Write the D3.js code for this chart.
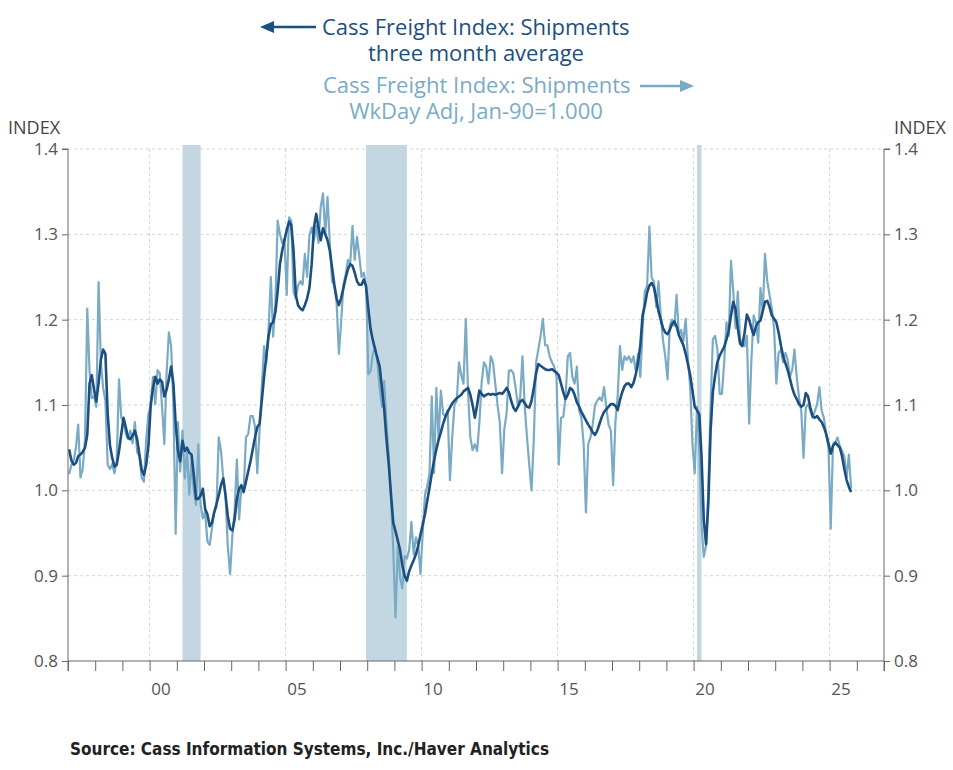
<!DOCTYPE html>
<html>
<head>
<meta charset="utf-8">
<script src="https://cdnjs.cloudflare.com/ajax/libs/d3/7.8.5/d3.min.js"></script>
<style>
  body { margin: 0; background: #fff; }
  svg text { font-family: "Open Sans", "Noto Sans", sans-serif; }
  .tick text { fill: #555; }
  .axis path, .axis line { stroke: #666; }
</style>
</head>
<body>
<svg id="chart" width="953" height="770"></svg>
<script>
// monthly values, Jan 1997 .. Oct 2025
var startYear = 1997;

var shipments = [
  1.019, 1.030, 1.035, 1.050, 1.077, 1.015, 1.025, 1.060, 1.213, 1.140, 1.108, 1.110, // 1997
  1.098, 1.244, 1.150, 1.120, 1.105, 1.030, 1.025, 1.031, 1.020, 1.035, 1.130, 1.085, // 1998
  1.080, 1.066, 1.060, 1.070, 1.055, 1.080, 1.045, 1.040, 1.015, 1.010, 1.060, 1.090, // 1999
  1.100, 1.133, 1.101, 1.141, 1.137, 1.098, 1.054, 1.137, 1.185, 1.169, 1.101, 0.949, // 2000
  1.080, 1.022, 1.070, 1.014, 1.046, 0.995, 1.034, 0.999, 0.983, 1.054, 0.983, 0.967, // 2001
  0.975, 0.940, 0.936, 0.955, 0.975, 0.980, 1.062, 1.046, 1.014, 0.994, 0.934, 0.902, // 2002
  0.946, 0.975, 1.036, 0.966, 1.005, 0.998, 1.062, 1.066, 1.087, 1.087, 1.075, 1.020, // 2003
  1.070, 1.121, 1.169, 1.150, 1.189, 1.250, 1.180, 1.220, 1.316, 1.300, 1.290, 1.295, // 2004
  1.229, 1.320, 1.316, 1.233, 1.225, 1.240, 1.245, 1.241, 1.277, 1.250, 1.298, 1.308, // 2005
  1.293, 1.310, 1.290, 1.332, 1.348, 1.300, 1.344, 1.290, 1.245, 1.240, 1.220, 1.160, // 2006
  1.197, 1.240, 1.253, 1.270, 1.265, 1.310, 1.270, 1.297, 1.275, 1.250, 1.255, 1.240, // 2007
  1.136, 1.140, 1.160, 1.168, 1.150, 1.120, 1.098, 1.128, 1.080, 1.040, 0.990, 0.930, // 2008
  0.851, 0.934, 0.898, 0.885, 0.923, 0.920, 0.930, 0.963, 0.925, 0.945, 0.935, 0.902, // 2009
  0.950, 0.995, 1.005, 1.020, 1.110, 1.020, 1.120, 1.060, 1.117, 1.090, 1.086, 1.094, // 2010
  1.012, 1.062, 1.100, 1.105, 1.150, 1.135, 1.125, 1.201, 1.115, 1.062, 1.047, 1.054, // 2011
  1.046, 1.080, 1.127, 1.150, 1.145, 1.125, 1.157, 1.150, 1.125, 1.100, 1.080, 1.020, // 2012
  1.072, 1.090, 1.140, 1.141, 1.137, 1.120, 1.098, 1.110, 1.157, 1.098, 1.062, 1.030, // 2013
  1.000, 1.060, 1.150, 1.165, 1.181, 1.201, 1.170, 1.170, 1.157, 1.150, 1.145, 1.133, // 2014
  1.030, 1.085, 1.086, 1.109, 1.157, 1.161, 1.133, 1.125, 1.145, 1.093, 1.085, 1.054, // 2015
  0.974, 1.054, 1.062, 1.077, 1.100, 1.105, 1.109, 1.105, 1.121, 1.097, 1.077, 1.070, // 2016
  1.006, 1.080, 1.110, 1.169, 1.141, 1.157, 1.153, 1.157, 1.150, 1.157, 1.140, 1.160, // 2017
  1.133, 1.190, 1.233, 1.240, 1.309, 1.249, 1.245, 1.215, 1.245, 1.205, 1.176, 1.157, // 2018
  1.130, 1.193, 1.200, 1.193, 1.229, 1.181, 1.188, 1.175, 1.201, 1.153, 1.121, 1.054, // 2019
  1.020, 1.098, 1.050, 0.960, 0.922, 0.935, 1.000, 1.100, 1.177, 1.181, 1.165, 1.113, // 2020
  1.113, 1.150, 1.197, 1.181, 1.269, 1.233, 1.190, 1.233, 1.177, 1.173, 1.169, 1.181, // 2021
  1.078, 1.153, 1.205, 1.197, 1.173, 1.237, 1.209, 1.277, 1.245, 1.229, 1.213, 1.190, // 2022
  1.125, 1.161, 1.165, 1.150, 1.161, 1.153, 1.133, 1.141, 1.165, 1.133, 1.109, 1.093, // 2023
  1.038, 1.097, 1.101, 1.093, 1.085, 1.093, 1.101, 1.121, 1.093, 1.085, 1.065, 1.050, // 2024
  0.955, 1.054, 1.056, 1.062, 1.052, 1.046, 1.040, 1.015, 1.042, 1.002                // 2025
];

var shipments3m = [
  1.048, 1.035, 1.030, 1.032, 1.040, 1.042, 1.045, 1.050, 1.065, 1.125, 1.135, 1.118, // 1997
  1.104, 1.126, 1.153, 1.165, 1.160, 1.090, 1.053, 1.038, 1.028, 1.030, 1.046, 1.066, // 1998
  1.085, 1.074, 1.062, 1.060, 1.064, 1.070, 1.060, 1.042, 1.024, 1.018, 1.030, 1.053, // 1999
  1.100, 1.120, 1.133, 1.125, 1.130, 1.127, 1.110, 1.118, 1.130, 1.145, 1.125, 1.078, // 2000
  1.046, 1.034, 1.058, 1.046, 1.050, 1.044, 1.042, 1.018, 0.990, 0.990, 0.994, 1.002, // 2001
  0.978, 0.972, 0.958, 0.962, 0.974, 0.984, 0.994, 1.006, 1.014, 0.994, 0.970, 0.955, // 2002
  0.953, 0.966, 0.990, 1.002, 1.006, 0.998, 1.010, 1.022, 1.034, 1.048, 1.062, 1.074, // 2003
  1.078, 1.105, 1.133, 1.157, 1.181, 1.195, 1.197, 1.209, 1.233, 1.265, 1.281, 1.293, // 2004
  1.305, 1.315, 1.311, 1.281, 1.229, 1.217, 1.213, 1.211, 1.217, 1.225, 1.237, 1.265, // 2005
  1.308, 1.324, 1.308, 1.293, 1.307, 1.300, 1.293, 1.281, 1.261, 1.241, 1.225, 1.217, // 2006
  1.225, 1.237, 1.249, 1.259, 1.265, 1.263, 1.255, 1.245, 1.241, 1.241, 1.247, 1.239, // 2007
  1.213, 1.189, 1.176, 1.165, 1.155, 1.145, 1.120, 1.095, 1.060, 1.031, 0.995, 0.962, // 2008
  0.952, 0.941, 0.930, 0.912, 0.900, 0.894, 0.905, 0.912, 0.918, 0.925, 0.935, 0.948, // 2009
  0.960, 0.972, 0.988, 1.003, 1.020, 1.035, 1.048, 1.059, 1.068, 1.078, 1.086, 1.092, // 2010
  1.097, 1.102, 1.105, 1.108, 1.110, 1.112, 1.116, 1.118, 1.120, 1.112, 1.100, 1.085, // 2011
  1.100, 1.117, 1.113, 1.110, 1.112, 1.113, 1.112, 1.113, 1.112, 1.113, 1.114, 1.113, // 2012
  1.116, 1.120, 1.115, 1.105, 1.097, 1.093, 1.098, 1.104, 1.106, 1.102, 1.098, 1.097, // 2013
  1.105, 1.120, 1.137, 1.148, 1.146, 1.144, 1.142, 1.141, 1.141, 1.142, 1.140, 1.138, // 2014
  1.135, 1.125, 1.115, 1.107, 1.112, 1.120, 1.118, 1.112, 1.103, 1.098, 1.092, 1.087, // 2015
  1.082, 1.077, 1.073, 1.068, 1.065, 1.070, 1.078, 1.086, 1.092, 1.095, 1.098, 1.101, // 2016
  1.101, 1.099, 1.094, 1.106, 1.115, 1.122, 1.125, 1.125, 1.121, 1.126, 1.136, 1.150, // 2017
  1.170, 1.205, 1.217, 1.232, 1.240, 1.243, 1.238, 1.225, 1.210, 1.200, 1.190, 1.185, // 2018
  1.183, 1.188, 1.195, 1.198, 1.192, 1.182, 1.176, 1.170, 1.160, 1.148, 1.135, 1.117, // 2019
  1.098, 1.094, 1.089, 1.040, 0.965, 0.937, 0.985, 1.070, 1.115, 1.135, 1.150, 1.158, // 2020
  1.163, 1.168, 1.177, 1.187, 1.205, 1.221, 1.212, 1.190, 1.172, 1.169, 1.185, 1.206, // 2021
  1.200, 1.190, 1.182, 1.192, 1.197, 1.199, 1.210, 1.221, 1.222, 1.215, 1.205, 1.201, // 2022
  1.197, 1.185, 1.170, 1.157, 1.149, 1.141, 1.131, 1.120, 1.112, 1.107, 1.101, 1.098, // 2023
  1.100, 1.114, 1.110, 1.097, 1.087, 1.085, 1.087, 1.083, 1.080, 1.074, 1.066, 1.055, // 2024
  1.043, 1.052, 1.056, 1.053, 1.050, 1.040, 1.025, 1.012, 1.004, 0.998                // 2025
];

// NBER recessions, [first month, last month]
var recessions = [["2001-03", "2001-11"], ["2007-12", "2009-06"], ["2020-02", "2020-04"]];

var yTicks = [0.8, 0.9, 1.0, 1.1, 1.2, 1.3, 1.4];
var yearLabels = [2000, 2005, 2010, 2015, 2020, 2025];

var colDark = "#1c4f80";
var colLight = "#7aabc5";

var plotLeft = 68, plotRight = 884, plotTop = 149, plotBottom = 661;

var svg = d3.select("#chart");

var x = d3.scaleLinear().domain([1997, 2027]).range([plotLeft, plotRight]);
var y = d3.scaleLinear().domain([0.8, 1.4]).range([plotBottom, plotTop]);

function monthPos(s) {
    var p = s.split("-");
    return +p[0] + (+p[1] - 0.5) / 12;
}

function series(vals) {
    return vals.map(function(v, i) {
        return { t: startYear + (i + 0.5) / 12, v: v };
    });
}

// recession shading
svg.selectAll("rect.rec")
    .data(recessions)
    .enter().append("rect")
    .attr("class", "rec")
    .attr("x", function(d) { return x(monthPos(d[0])) })
    .attr("width", function(d) { return x(monthPos(d[1])) - x(monthPos(d[0])) })
    .attr("y", plotTop - 4)
    .attr("height", plotBottom - plotTop + 4)
    .attr("fill", "#c3d7e3");

// grid
svg.selectAll("line.hgrid")
    .data(yTicks.slice(1))
    .enter().append("line")
    .attr("x1", plotLeft).attr("x2", plotRight)
    .attr("y1", function(d) { return y(d) })
    .attr("y2", function(d) { return y(d) })
    .attr("stroke", "#d4d4d4")
    .attr("stroke-dasharray", "3,3");

svg.selectAll("line.vgrid")
    .data(yearLabels)
    .enter().append("line")
    .attr("x1", function(d) { return x(d) })
    .attr("x2", function(d) { return x(d) })
    .attr("y1", plotTop).attr("y2", plotBottom)
    .attr("stroke", "#d4d4d4")
    .attr("stroke-dasharray", "3,3");

// lines
var line = d3.line()
    .x(function(d) { return x(d.t) })
    .y(function(d) { return y(d.v) });

svg.append("path")
    .datum(series(shipments))
    .attr("d", line)
    .attr("fill", "none")
    .attr("stroke", colLight)
    .attr("stroke-width", 2.2)
    .attr("stroke-linejoin", "round");

svg.append("path")
    .datum(series(shipments3m))
    .attr("d", line)
    .attr("fill", "none")
    .attr("stroke", colDark)
    .attr("stroke-width", 2.6)
    .attr("stroke-linejoin", "round");

// axes
var fmt = d3.format(".1f");

svg.append("g")
    .attr("class", "axis")
    .attr("transform", "translate(" + plotLeft + ",0)")
    .call(d3.axisLeft(y).tickValues(yTicks).tickFormat(fmt).tickSize(6).tickPadding(4))
    .call(function(g) { g.select(".domain").attr("d", "M-6," + plotTop + "H0V" + (plotBottom + 10)) });

svg.append("g")
    .attr("class", "axis")
    .attr("transform", "translate(" + plotRight + ",0)")
    .call(d3.axisRight(y).tickValues(yTicks).tickFormat(fmt).tickSize(6).tickPadding(4))
    .call(function(g) { g.select(".domain").attr("d", "M6," + plotTop + "H0V" + (plotBottom + 10)) });

svg.append("g")
    .attr("class", "axis")
    .attr("transform", "translate(0," + plotBottom + ")")
    .call(d3.axisBottom(x).tickValues(d3.range(1997, 2028)).tickFormat("").tickSize(10))
    .call(function(g) { g.select(".domain").attr("d", "M" + plotLeft + ",0H" + plotRight) });

svg.append("g")
    .attr("class", "xlab")
    .attr("transform", "translate(0," + plotBottom + ")")
    .call(d3.axisBottom(x)
        .tickValues(yearLabels.map(function(d) { return d + 0.4 }))
        .tickFormat(function(d) { return String(Math.floor(d) % 100).padStart(2, "0") })
        .tickSize(0).tickPadding(22))
    .call(function(g) { g.select(".domain").remove() });

svg.selectAll(".tick text").attr("font-size", 17).attr("font-family", null);

// unit labels
svg.append("text").attr("x", 8).attr("y", 134)
    .attr("font-size", 18).attr("fill", "#444").text("INDEX");
svg.append("text").attr("x", 946).attr("y", 134).attr("text-anchor", "end")
    .attr("font-size", 18).attr("fill", "#444").text("INDEX");

// legend
var lg = svg.append("g").attr("font-size", 22);

lg.append("line").attr("x1", 316).attr("x2", 272).attr("y1", 27).attr("y2", 27)
    .attr("stroke", colDark).attr("stroke-width", 2.5);
lg.append("path").attr("d", "M260,27L274,21L274,33Z").attr("fill", colDark);
lg.append("text").attr("x", 322).attr("y", 35).attr("fill", colDark)
    .text("Cass Freight Index: Shipments");
lg.append("text").attr("x", 476).attr("y", 61).attr("text-anchor", "middle").attr("fill", colDark)
    .text("three month average");

lg.append("text").attr("x", 323).attr("y", 93).attr("fill", colLight)
    .text("Cass Freight Index: Shipments");
lg.append("line").attr("x1", 640).attr("x2", 682).attr("y1", 86).attr("y2", 86)
    .attr("stroke", colLight).attr("stroke-width", 2.5);
lg.append("path").attr("d", "M694,86L680,80L680,92Z").attr("fill", colLight);
lg.append("text").attr("x", 476).attr("y", 119).attr("text-anchor", "middle").attr("fill", colLight)
    .text("WkDay Adj, Jan-90=1.000");

// source
svg.append("text").attr("x", 70).attr("y", 755)
    .style("font-family", "'DejaVu Sans', sans-serif")
    .style("font-stretch", "condensed")
    .attr("font-size", 17).attr("font-weight", "bold").attr("fill", "#222")
    .text("Source:  Cass Information Systems, Inc./Haver Analytics");
</script>
</body>
</html>
